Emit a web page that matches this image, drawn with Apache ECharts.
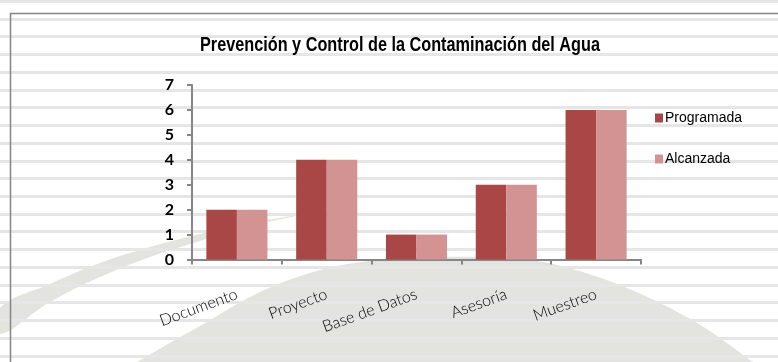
<!DOCTYPE html>
<html>
<head>
<meta charset="utf-8">
<script src="https://cdn.jsdelivr.net/npm/echarts@6/dist/echarts.min.js"></script>
<style>
  html, body { margin: 0; padding: 0; background: #fff; }
  #chart { width: 778px; height: 362px; }
</style>
</head>
<body>
<div id="chart"></div>
<script>
const categories = ['Documento', 'Proyecto', 'Base de Datos', 'Asesoría', 'Muestreo']
const programada = [2, 4, 1, 3, 6]
const alcanzada = [2, 4, 1, 3, 6]
const seriesNames = ['Programada', 'Alcanzada']
const titleText = 'Prevención y Control de la Contaminación del Agua'
const colors = ['#A94646', '#D39393']

const titleFont = 'bold 20px "Liberation Sans", sans-serif'
// la fuente original es condensada: se comprime el texto al ancho del original
const ctx = document.createElement('canvas').getContext('2d')
ctx.font = titleFont
const titleScale = 400 / ctx.measureText(titleText).width

const background = []
// arco grande
background.push({
    type: 'polygon',
    z: -15,
    shape: {
        smooth: 0.35,
        points: [[100, 600], [110, 380], [137, 362], [200, 326], [260, 292], [320, 270], [370, 261],
                 [440, 257], [500, 258], [553, 264], [627, 288], [697, 323], [753, 362], [790, 388], [800, 600]]
    },
    style: { fill: '#E3E3DF' }
})
// franja curva
background.push({
    type: 'polygon',
    z: -15,
    shape: {
        smooth: 0.4,
        points: [[0, 308], [50, 284], [100, 263], [150, 247], [200, 234], [250, 223], [300, 215],
                 [250, 226], [200, 241], [150, 257], [100, 277], [50, 302], [0, 334]]
    },
    style: { fill: '#E3E3DF' }
})
// fondo de rayas horizontales
for (let i = 0; i < 21; i++) {
    background.push({
        type: 'rect',
        z: -10,
        shape: { x: 0, y: Math.round(i * 17.73), width: 778, height: 3 },
        style: { fill: '#E6E6E6' }
    })
}
// marco
background.push({
    type: 'polyline',
    z: -5,
    shape: { points: [[10.5, 362], [10.5, 13.5], [778, 13.5]] },
    style: { stroke: '#858585', lineWidth: 1.5, fill: null }
})
// título
background.push({
    type: 'text',
    z: 10,
    x: 400,
    y: 45,
    scaleX: titleScale,
    style: {
        text: titleText,
        x: 0,
        y: 0,
        align: 'center',
        verticalAlign: 'middle',
        font: titleFont,
        fill: '#000'
    }
})

const chart = echarts.init(document.getElementById('chart'))
const option = {
    animation: false,
    graphic: background,
    legend: {
        orient: 'vertical',
        left: 655,
        top: 111,
        padding: 0,
        icon: 'rect',
        itemWidth: 8,
        itemHeight: 9,
        itemGap: 27,
        data: seriesNames,
        textStyle: {
            fontFamily: 'Liberation Sans, sans-serif',
            fontSize: 14,
            color: '#000',
            padding: [0, 0, 0, -3]
        }
    },
    grid: {
        left: 192,
        right: 137,
        top: 85,
        bottom: 102.5,
        containLabel: false
    },
    xAxis: {
        type: 'category',
        data: categories,
        axisLine: { lineStyle: { color: '#868686', width: 2 } },
        axisTick: { show: true, length: 5, lineStyle: { color: '#868686', width: 2 } },
        axisLabel: {
            interval: 0,
            rotate: 20,
            margin: 34,
            fontFamily: 'Lato, sans-serif',
            fontWeight: 300,
            fontSize: 16,
            color: '#000'
        }
    },
    yAxis: {
        type: 'value',
        min: 0,
        max: 7,
        interval: 1,
        axisLine: { show: true, lineStyle: { color: '#868686', width: 2 } },
        axisTick: { show: true, length: 5, lineStyle: { color: '#868686', width: 2 } },
        splitLine: { show: false },
        axisLabel: {
            margin: 18,
            fontFamily: 'Lato, sans-serif',
            fontWeight: 'bold',
            fontSize: 16,
            color: '#000'
        }
    },
    series: [
        {
            name: seriesNames[0],
            type: 'bar',
            data: programada,
            barGap: '0%',
            barCategoryGap: '32%',
            itemStyle: { color: colors[0] }
        },
        {
            name: seriesNames[1],
            type: 'bar',
            data: alcanzada,
            itemStyle: { color: colors[1] }
        }
    ]
}
chart.setOption(option)
</script>
</body>
</html>
